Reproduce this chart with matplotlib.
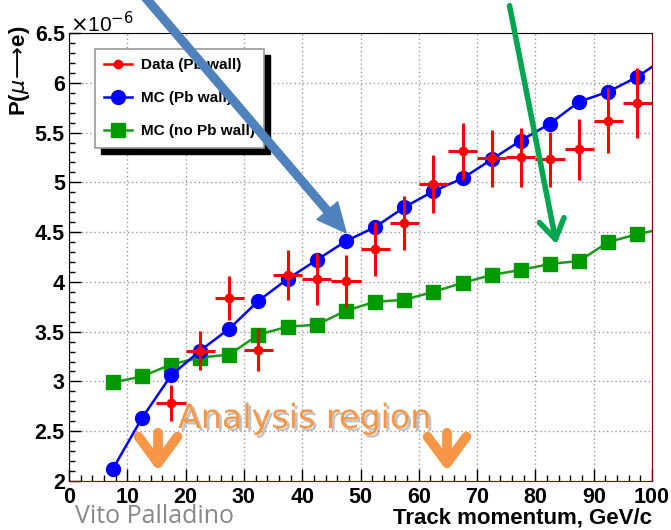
import numpy as np
import matplotlib.pyplot as plt
import matplotlib.patheffects as pe
from matplotlib.patches import FancyArrowPatch, Rectangle
from matplotlib.lines import Line2D
from matplotlib.ticker import MultipleLocator
from matplotlib.transforms import IdentityTransform

plt.rcParams['font.family'] = ['Liberation Sans', 'DejaVu Sans']

# track momentum bin centres (GeV/c)
mc_p = [7.5, 12.5, 17.5, 22.5, 27.5, 32.5, 37.5, 42.5, 47.5, 52.5,
        57.5, 62.5, 67.5, 72.5, 77.5, 82.5, 87.5, 92.5, 97.5, 102.5]
# MC with Pb wall (x1e-6)
mc_pb = [2.12, 2.63, 3.06, 3.31, 3.53, 3.81, 4.03, 4.22, 4.41, 4.55,
         4.75, 4.91, 5.04, 5.23, 5.42, 5.59, 5.81, 5.91, 6.06, 6.26]
# MC without Pb wall
mc_nopb = [2.99, 3.05, 3.17, 3.24, 3.27, 3.47, 3.55, 3.57, 3.71, 3.80,
           3.82, 3.90, 3.99, 4.07, 4.12, 4.18, 4.21, 4.40, 4.48, 4.54]

# data with Pb wall
data_p = [17.5, 22.5, 27.5, 32.5, 37.5, 42.5, 47.5, 52.5, 57.5, 62.5,
          67.5, 72.5, 77.5, 82.5, 87.5, 92.5, 97.5]
data_y = [2.78, 3.31, 3.84, 3.32, 4.07, 4.03, 4.01, 4.33, 4.59, 4.98,
          5.31, 5.24, 5.25, 5.23, 5.33, 5.62, 5.80]
data_err = [0.18, 0.20, 0.22, 0.22, 0.25, 0.26, 0.26, 0.27, 0.27, 0.29,
            0.29, 0.29, 0.30, 0.28, 0.31, 0.33, 0.35]
data_xerr = 2.5

W, H = 671, 530
fig = plt.figure(figsize=(W/100, H/100), dpi=100)
ax = fig.add_axes([69/W, 1-481/H, (652-69)/W, (481-33)/H])

ax.plot(mc_p, mc_nopb, color='#1a9a1a', lw=1.8, marker='s', ms=10,
        markerfacecolor='#009900', markeredgecolor='#009900', zorder=3)
ax.plot(mc_p, mc_pb, color='#0000ff', lw=1.8, marker='o', ms=10, zorder=4)
ax.errorbar(data_p, data_y, yerr=data_err, xerr=data_xerr, fmt='o',
            color='#ff0000', ms=6, elinewidth=2.2, capsize=0, zorder=5)

ax.set_xlim(0, 100)
ax.set_ylim(2, 6.5)
ax.xaxis.set_major_locator(MultipleLocator(10))
ax.xaxis.set_minor_locator(MultipleLocator(2))
ax.yaxis.set_major_locator(MultipleLocator(0.5))
ax.yaxis.set_minor_locator(MultipleLocator(0.1))
ax.tick_params(which='both', direction='in', top=False, right=False,
               labelsize=15.5)
ax.tick_params(which='major', length=8.5, width=1)
ax.tick_params(which='minor', length=4.5, width=1)
ax.tick_params(axis='x', pad=4)
ax.tick_params(axis='y', pad=3)
ax.set_yticks([2, 2.5, 3, 3.5, 4, 4.5, 5, 5.5, 6, 6.5])
ax.set_yticklabels(['2', '2.5', '3', '3.5', '4', '4.5', '5', '5.5', '6', '6.5'])
for lab in ax.get_xticklabels() + ax.get_yticklabels():
    lab.set_fontweight('bold')
ax.grid(True, which='major', color='#999999', ls=(0, (1, 2)), lw=1)
ax.spines['bottom'].set_color('#900000')
ax.spines['right'].set_color('#700000')

fig.text(70/W, 1-24/H, r'$\times$10$^{-6}$', fontsize=15, ha='left',
         va='center')
fig.text(20/W, 1-71/H, r'P($\mu\!\longrightarrow\!$e)', fontsize=16,
         fontweight='bold', rotation=90, ha='center', va='center')
fig.text(652/W, 1-518/H, 'Track momentum, GeV/c', fontsize=16,
         fontweight='bold', ha='right', va='center')

# legend with ROOT-like hard shadow
handles = [Line2D([], [], color='#ff0000', lw=1.8, marker='o', ms=6),
           Line2D([], [], color='#0000ff', lw=1.8, marker='o', ms=10),
           Line2D([], [], color='#1a9a1a', lw=1.8, marker='s', ms=10,
                  markerfacecolor='#009900', markeredgecolor='#009900')]
labels = ['Data (Pb wall)', 'MC (Pb wall)', 'MC (no Pb wall)']
leg = ax.legend(handles, labels, loc='upper left',
                bbox_to_anchor=(26/583, 1-16/448), borderaxespad=0,
                frameon=True, fancybox=False, framealpha=1,
                edgecolor='#999999', labelspacing=1.25, handlelength=1.8,
                handletextpad=0.6, borderpad=0.6,
                prop={'weight': 'bold', 'size': 11})
leg.get_frame().set_linewidth(1.2)
leg.set_zorder(7)
fig.canvas.draw()
bb = leg.get_window_extent()
ax.add_patch(Rectangle((bb.x0 + 6, bb.y0 - 6), bb.width, bb.height,
                       transform=IdentityTransform(), color='black', zorder=6))

# slide annotations
fig.patches.append(FancyArrowPatch((143/W, 1.01), (348/W, 1-235/H),
                                   transform=fig.transFigure,
                                   arrowstyle='simple,head_length=1.5,head_width=1.4,tail_width=0.4',
                                   mutation_scale=14, color='#4f81bd', zorder=10))
fig.patches.append(FancyArrowPatch((509/W, 1-3/H), (557/W, 1-247/H),
                                   transform=fig.transFigure,
                                   arrowstyle='->,head_length=0.7,head_width=0.45',
                                   mutation_scale=20, lw=4, color='#00a550',
                                   capstyle='round', zorder=10))
for xp in (158, 447):
    fig.patches.append(FancyArrowPatch((xp/W, 1-430/H), (xp/W, 1-474/H),
                                       transform=fig.transFigure,
                                       arrowstyle='->,head_length=0.95,head_width=0.7',
                                       mutation_scale=20, lw=7, color='#f79646',
                                       zorder=10))

fig.text(178/W, 1-428/H, 'Analysis region', fontsize=24, color='#f79646',
         ha='left', va='baseline', family='DejaVu Sans',
         path_effects=[pe.withSimplePatchShadow(offset=(2, -2), shadow_rgbFace='#888888', alpha=0.5)])
fig.text(75/W, 1-523/H, 'Vito Palladino', fontsize=18, color='#888888',
         family='Open Sans', ha='left', va='baseline')

fig.savefig('out.png', dpi=100)
